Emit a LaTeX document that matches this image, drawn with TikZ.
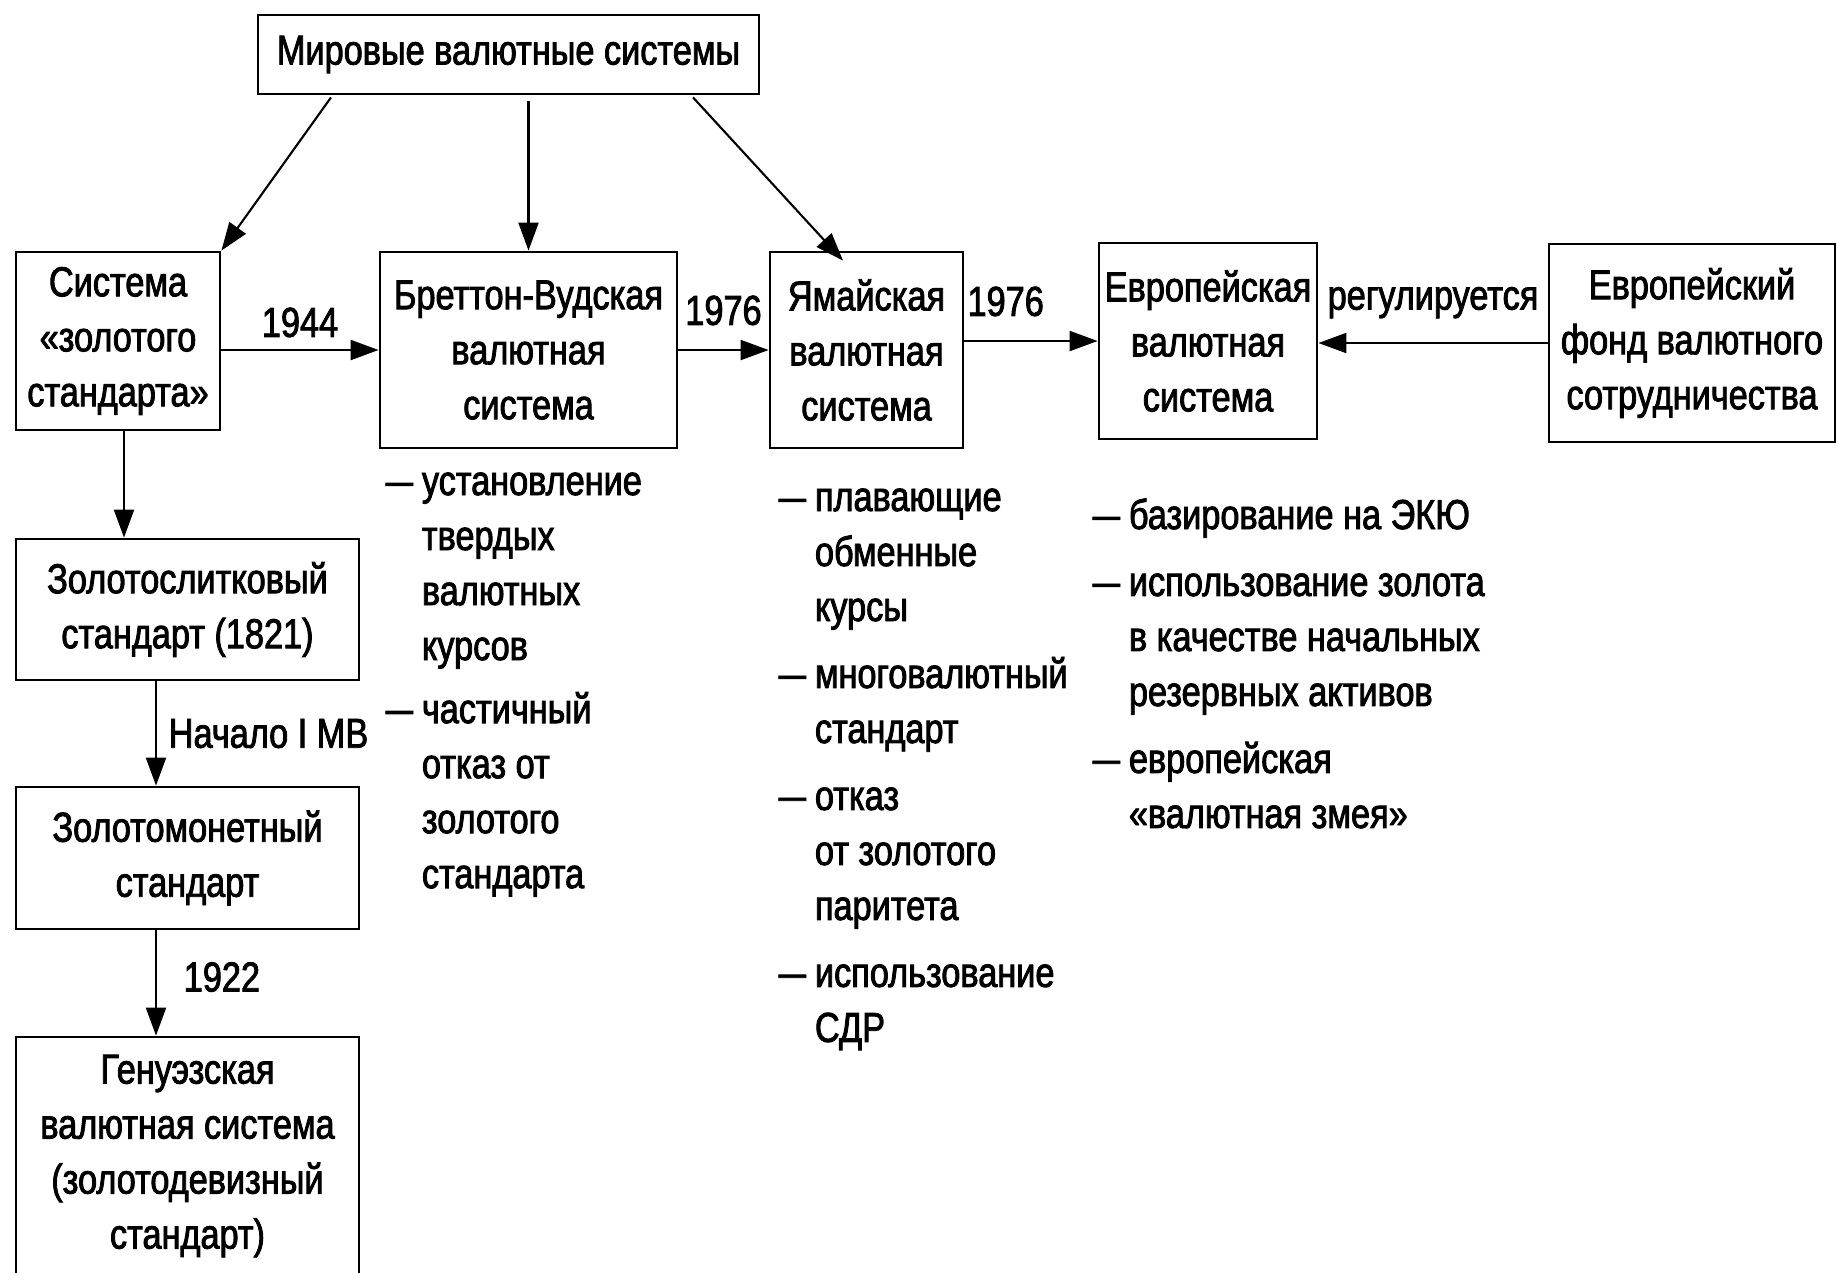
\documentclass[tikz,border=0pt]{standalone}
\usepackage{fontspec}
\setmainfont{Liberation Sans}[FakeStretch=0.82,FakeBold=2]
\usepackage{graphicx}
\usepackage{tikz}
\usetikzlibrary{arrows.meta}

\newcommand{\dsh}{\scalebox{0.8}[1]{—}}

\begin{document}
\begin{tikzpicture}[
every node/.style={font=\fontsize{11.9}{15.65}\selectfont},
box/.style={draw,line width=0.8pt,align=center,inner sep=1pt},
arr/.style={line width=0.6pt,-{Triangle[length=2.8mm,width=2mm]}},
items/.style={anchor=base west,inner sep=0pt}
]
\useasboundingbox (0,0) rectangle (18.37,-12.72);

% The boxes
\node[box,minimum width=5.01cm,minimum height=0.79cm] (world) at (5.085,-0.545) {Мировые валютные системы};
\node[box,minimum width=2.04cm,minimum height=1.78cm] (sys) at (1.18,-3.41) {Система\\«золотого\\стандарта»};
\node[box,minimum width=2.97cm,minimum height=1.96cm] (bw) at (5.285,-3.50) {Бреттон-Вудская\\валютная\\система};
\node[box,minimum width=1.93cm,minimum height=1.96cm] (jam) at (8.665,-3.50) {Ямайская\\валютная\\система};
\node[box,minimum width=2.18cm,minimum height=1.96cm] (eur) at (12.08,-3.41) {Европейская\\валютная\\система};
\node[box,minimum width=2.86cm,minimum height=1.98cm] (fund) at (16.92,-3.43) {Европейский\\фонд валютного\\сотрудничества};
\node[box,minimum width=3.43cm,minimum height=1.41cm] (slit) at (1.875,-6.095) {Золотослитковый\\стандарт (1821)};
\node[box,minimum width=3.43cm,minimum height=1.42cm] (mon) at (1.875,-8.58) {Золотомонетный\\стандарт};
\node[box,minimum width=3.43cm,minimum height=2.38cm] (gen) at (1.875,-11.56) {Генуэзская\\валютная система\\(золотодевизный\\стандарт)};

% The arrows
\draw[arr] ([xshift=-1.775cm,yshift=-0.02cm]world.south) -- (sys.north east);
\draw[arr] ([yshift=-0.06cm]world.south -| bw.north) -- (bw.north);
\draw[arr] ([xshift=1.845cm,yshift=-0.02cm]world.south) -- ([xshift=-0.235cm,yshift=-0.1cm]jam.north);
\draw[arr] (sys.east |- bw.west) -- node[above] {1944} (bw.west);
\draw[arr] (bw.east) -- node[above,yshift=0.12cm] {1976} (jam.west);
\draw[arr] (jam.east |- eur.west) -- node[pos=0.31,above,yshift=0.12cm] {1976} (eur.west);
\draw[arr] (fund.west) -- node[above,yshift=0.12cm] {регулируется} (fund.west -| eur.east);
\draw[arr] ([xshift=0.06cm]sys.south) -- ([xshift=0.06cm]sys.south |- slit.north);
\draw[arr] ([xshift=-0.315cm]slit.south) -- node[right] {Начало I МВ} ([xshift=-0.315cm]mon.north);
\draw[arr] ([xshift=-0.315cm]mon.south) -- node[right=0.15cm,yshift=0.06cm] {1922} ([xshift=-0.315cm]gen.north);

% The features
\node[items] (bwlist) at (3.85,-4.95) {\begin{tabular}[t]{@{}l@{\hspace{2.5pt}}l@{}}
\dsh & установление\\ & твердых\\ & валютных\\ & курсов\\[2.3pt]
\dsh & частичный\\ & отказ от\\ & золотого\\ & стандарта
\end{tabular}};
\node[items] (jamlist) at (7.78,-5.11) {\begin{tabular}[t]{@{}l@{\hspace{2.5pt}}l@{}}
\dsh & плавающие\\ & обменные\\ & курсы\\[3.4pt]
\dsh & многовалютный\\ & стандарт\\[3.4pt]
\dsh & отказ\\ & от золотого\\ & паритета\\[3.4pt]
\dsh & использование\\ & СДР
\end{tabular}};
\node[items] (eurlist) at (10.92,-5.29) {\begin{tabular}[t]{@{}l@{\hspace{2.5pt}}l@{}}
\dsh & базирование на ЭКЮ\\[3.4pt]
\dsh & использование золота\\ & в качестве начальных\\ & резервных активов\\[3.4pt]
\dsh & европейская\\ & «валютная змея»
\end{tabular}};
\end{tikzpicture}
\end{document}
